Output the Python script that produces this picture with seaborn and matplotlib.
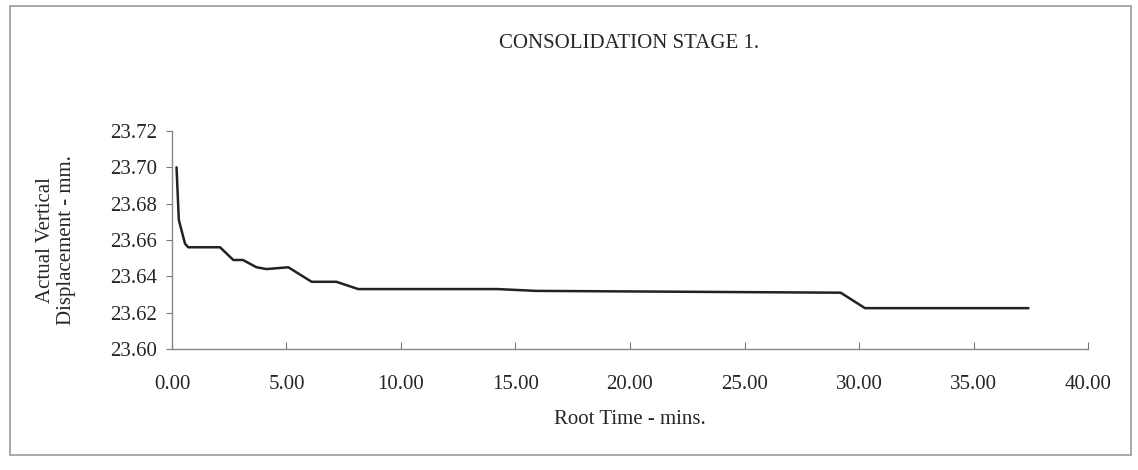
import pandas as pd
import seaborn as sns
import matplotlib.pyplot as plt
from matplotlib.patches import Rectangle

# values
root_time = [0.20, 0.30, 0.57, 0.71, 2.10, 2.68, 3.10, 3.69, 4.13, 5.08, 6.10,
             7.18, 8.13, 14.20, 15.90, 29.20, 30.26, 37.40]
displacement = [23.700, 23.671, 23.658, 23.656, 23.656, 23.649, 23.649, 23.645,
                23.644, 23.645, 23.637, 23.637, 23.633, 23.633, 23.632, 23.631,
                23.6225, 23.6225]
x_ticks = [0, 5, 10, 15, 20, 25, 30, 35, 40]
y_ticks = [23.60, 23.62, 23.64, 23.66, 23.68, 23.70, 23.72]


def set_config():
    sns.set_style("white")
    plt.rcParams["font.family"] = ["Liberation Serif", "DejaVu Serif"]


def show_consolidation_graph():
    df = pd.DataFrame({"t": root_time, "d": displacement})

    fig = plt.figure(figsize=(11.38, 4.70), dpi=100)
    # chart area border like the spreadsheet frame
    fig.patches.append(Rectangle((0.009, 0.032), 0.985, 0.955, transform=fig.transFigure,
                                 fill=False, edgecolor="#9a9a9a", linewidth=1.2))
    ax = fig.add_axes([0.1511, 0.2574, 0.8050, 0.4639])

    sns.lineplot(x="t", y="d", data=df, ax=ax, color="#222222", linewidth=1.8,
                 estimator=None, sort=False)

    ax.set_xlim(0, 40)
    ax.set_ylim(23.60, 23.72)
    ax.set_xticks(x_ticks)
    ax.set_yticks(y_ticks)
    ax.set_xticklabels([f"{v:.2f}" for v in x_ticks])
    ax.set_yticklabels([f"{v:.2f}" for v in y_ticks])
    ax.tick_params(axis="x", direction="in", length=5, color="#777777", labelsize=15,
                   pad=19, bottom=True)
    ax.tick_params(axis="y", direction="out", length=4, color="#777777", labelsize=15,
                   pad=7, left=True)
    for side in ["top", "right"]:
        ax.spines[side].set_visible(False)
    for side in ["left", "bottom"]:
        ax.spines[side].set_color("#888888")
        ax.spines[side].set_linewidth(1.0)

    ax.set_xlabel("Root Time - mins.", fontsize=15, labelpad=11)
    ax.set_ylabel("Actual Vertical\nDisplacement - mm.", fontsize=15, labelpad=24)
    fig.text(0.553, 0.907, "CONSOLIDATION STAGE 1.", ha="center", va="center", fontsize=15)

    fig.savefig("out.png", dpi=100)


def main():
    set_config()
    show_consolidation_graph()


if __name__ == "__main__":
    main()
